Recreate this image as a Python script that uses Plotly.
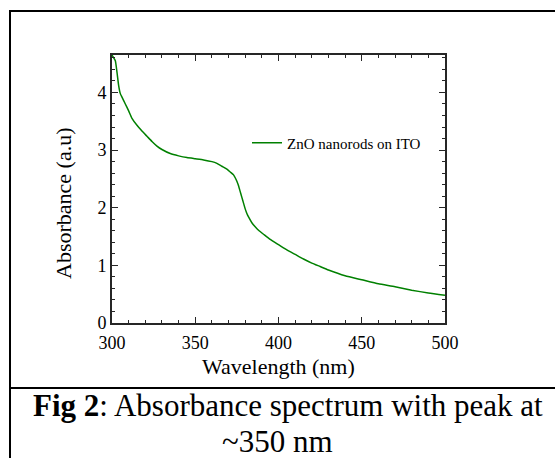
import plotly.graph_objects as go

# ---- data ----
wavelength_nm = [300, 301, 302, 303, 304, 305, 306, 308, 310, 312, 315, 318, 321, 324, 327,
                 330, 335, 340, 345, 350, 355, 360, 363, 366, 369, 371, 373, 374, 375, 376,
                 377, 378, 379, 380, 381, 382, 384, 386, 388, 391, 395, 400, 405, 410, 415,
                 420, 425, 430, 440, 450, 460, 470, 480, 490, 500]
absorbance = [4.65, 4.60, 4.55, 4.35, 4.12, 3.98, 3.92, 3.80, 3.68, 3.55, 3.43, 3.33, 3.24, 3.15, 3.07,
              3.01, 2.94, 2.90, 2.87, 2.85, 2.83, 2.80, 2.77, 2.72, 2.67, 2.62, 2.57, 2.52, 2.46, 2.38,
              2.28, 2.18, 2.08, 1.98, 1.90, 1.84, 1.74, 1.67, 1.61, 1.54, 1.45, 1.36, 1.27, 1.19, 1.11,
              1.04, 0.98, 0.92, 0.82, 0.75, 0.68, 0.63, 0.57, 0.52, 0.48]
series_name = "ZnO nanorods on ITO"
x_ticks = [300, 350, 400, 450, 500]
y_ticks = [0, 1, 2, 3, 4]
x_title = "Wavelength (nm)"
y_title = "Absorbance (a.u)"
caption_line1 = "<b>Fig 2</b>: Absorbance spectrum with peak at"
caption_line2 = "~350 nm"

# ---- layout geometry (pixels) ----
W, H = 555, 458
ML, MR, MT, MB = 112, 110, 55, 135
PW, PH = W - ML - MR, H - MT - MB

def px(x):
    return (x - ML) / PW

def py(y):
    return (H - MB - y) / PH

FONT = "Liberation Serif, Times New Roman, serif"
AX = "#262626"

fig = go.Figure()
fig.add_trace(go.Scatter(x=wavelength_nm, y=absorbance, mode="lines", name=series_name,
                         line=dict(color="#008000", width=1.5, shape="spline", smoothing=0.5)))

axis_common = dict(showline=True, linecolor=AX, linewidth=1.6, mirror="ticks",
                   ticks="inside", tickcolor=AX, tickwidth=1.2, ticklen=6,
                   showgrid=False, zeroline=False,
                   tickfont=dict(family=FONT, size=18, color="black"))

fig.update_xaxes(range=[300, 500], tickvals=x_ticks, ticktext=[str(v) for v in x_ticks],
                 ticklabelstandoff=3,
                 minor=dict(ticks="inside", dtick=10, ticklen=3, tickcolor=AX, tickwidth=1.2,
                            showgrid=False),
                 **axis_common)
fig.update_yaxes(range=[0, 4.65], tickvals=y_ticks, ticktext=[str(v) for v in y_ticks],
                 minor=dict(ticks="inside", dtick=0.2, ticklen=3, tickcolor=AX, tickwidth=1.2,
                            showgrid=False),
                 **axis_common)

shapes = [
    dict(type="line", xref="paper", yref="paper", x0=px(10), x1=px(10), y0=py(11), y1=py(460),
         line=dict(color="black", width=2)),
    dict(type="line", xref="paper", yref="paper", x0=px(9), x1=px(560), y0=py(11), y1=py(11),
         line=dict(color="black", width=2)),
    dict(type="line", xref="paper", yref="paper", x0=px(9), x1=px(560), y0=py(388), y1=py(388),
         line=dict(color="black", width=2)),
]

annotations = [
    dict(text=x_title, xref="paper", yref="paper", x=px(278), y=py(366), xanchor="center",
         yanchor="middle", showarrow=False, font=dict(family=FONT, size=22, color="black")),
    dict(text=y_title, xref="paper", yref="paper", x=px(63), y=py(203), xanchor="center",
         yanchor="middle", textangle=-90, showarrow=False,
         font=dict(family=FONT, size=22, color="black")),
    dict(text=caption_line1, xref="paper", yref="paper", x=px(31), y=py(405), xanchor="left",
         yanchor="middle", showarrow=False, font=dict(family=FONT, size=31, color="black")),
    dict(text=caption_line2, xref="paper", yref="paper", x=px(277), y=py(441), xanchor="center",
         yanchor="middle", showarrow=False, font=dict(family=FONT, size=31, color="black")),
]

fig.update_layout(
    width=W, height=H, autosize=False,
    margin=dict(l=ML, r=MR, t=MT, b=MB, pad=0),
    paper_bgcolor="white", plot_bgcolor="white",
    showlegend=True,
    legend=dict(x=px(247), y=py(143), xanchor="left", yanchor="middle",
                bgcolor="rgba(0,0,0,0)", borderwidth=0,
                font=dict(family=FONT, size=15, color="black")),
    shapes=shapes, annotations=annotations,
)

fig.write_html("out.html")
